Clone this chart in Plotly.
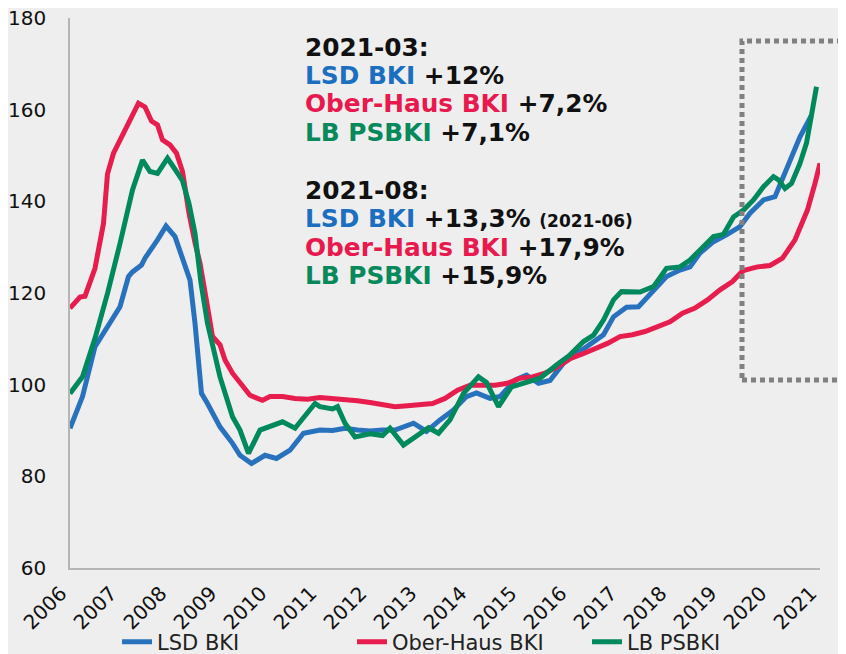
import plotly.graph_objects as go

# ---- data (x = position on the year axis) ----
years = list(range(2006, 2022))
year_labels = [str(y) for y in years]

lsd_t = [2006.0, 2006.25, 2006.5, 2006.75, 2007.0, 2007.17, 2007.25, 2007.43, 2007.5, 2007.75,
         2007.92, 2008.1, 2008.25, 2008.4, 2008.5, 2008.63, 2008.75, 2009.0, 2009.25, 2009.4,
         2009.63, 2009.9, 2010.13, 2010.4, 2010.67, 2011.0, 2011.25, 2011.5, 2011.75, 2012.0,
         2012.25, 2012.5, 2012.87, 2013.13, 2013.4, 2013.67, 2013.93, 2014.13, 2014.4, 2014.6,
         2014.9, 2015.13, 2015.37, 2015.6, 2015.87, 2016.13, 2016.4, 2016.67, 2016.87, 2017.13,
         2017.37, 2017.67, 2017.93, 2018.2, 2018.4, 2018.6, 2018.87, 2019.13, 2019.4, 2019.6,
         2019.87, 2020.1, 2020.33, 2020.6, 2020.83]
lsd_v = [90.5, 97.4, 108.3, 112.6, 117.0, 123.6, 124.6, 126.1, 127.6, 131.6,
         134.6, 132.3, 127.9, 122.8, 113.4, 98.1, 95.9, 90.8, 87.2, 84.6,
         82.8, 84.6, 83.9, 85.7, 89.4, 90.1, 90.0, 90.5, 90.1, 89.9,
         90.1, 90.1, 91.6, 89.8, 92.3, 94.5, 97.4, 98.2, 97.0, 97.4,
         101.0, 102.1, 100.3, 100.9, 104.7, 106.7, 109.0, 110.9, 114.8, 116.9,
         117.0, 120.7, 123.6, 125.0, 125.7, 128.7, 131.2, 132.7, 134.5, 137.4,
         140.3, 141.0, 146.8, 154.1, 158.8]

oh_t = [2006.0, 2006.2, 2006.3, 2006.5, 2006.67, 2006.75, 2006.87, 2007.0, 2007.25, 2007.37,
        2007.5, 2007.63, 2007.75, 2007.85, 2008.0, 2008.13, 2008.25, 2008.38, 2008.5, 2008.6,
        2008.75, 2008.85, 2009.0, 2009.1, 2009.25, 2009.4, 2009.5, 2009.6, 2009.75, 2009.85,
        2010.0, 2010.25, 2010.5, 2010.75, 2011.0, 2011.25, 2011.5, 2011.75, 2012.0, 2012.25,
        2012.5, 2012.75, 2013.0, 2013.25, 2013.5, 2013.75, 2014.0, 2014.25, 2014.5, 2014.75,
        2015.0, 2015.25, 2015.5, 2015.75, 2016.0, 2016.25, 2016.5, 2016.75, 2017.0, 2017.25,
        2017.5, 2017.75, 2018.0, 2018.25, 2018.5, 2018.75, 2019.0, 2019.25, 2019.43, 2019.5,
        2019.75, 2020.0, 2020.25, 2020.5, 2020.75, 2020.9, 2021.0]
oh_v = [116.7, 119.1, 119.3, 125.4, 135.2, 146.0, 150.5, 153.4, 158.8, 161.4,
        160.6, 157.5, 156.7, 153.4, 152.3, 150.5, 146.5, 137.4, 131.0, 126.5,
        117.0, 110.5, 108.7, 105.4, 102.5, 100.3, 99.2, 97.7, 97.0, 96.6,
        97.4, 97.4, 97.0, 96.8, 97.2, 97.0, 96.8, 96.5, 96.1, 95.6,
        95.2, 95.4, 95.6, 95.9, 97.0, 98.8, 99.9, 99.8, 99.9, 100.3,
        101.4, 101.7, 102.5, 103.9, 105.7, 106.7, 107.9, 109.0, 110.5, 110.9,
        111.6, 112.7, 113.7, 115.6, 116.7, 118.5, 120.7, 122.5, 124.6, 125.0,
        125.7, 126.0, 127.6, 131.6, 138.1, 143.9, 148.3]

lb_t = [2006.0, 2006.25, 2006.5, 2006.75, 2007.0, 2007.25, 2007.45, 2007.6, 2007.75, 2007.95,
        2008.1, 2008.25, 2008.38, 2008.5, 2008.62, 2008.75, 2009.0, 2009.25, 2009.4, 2009.57,
        2009.8, 2010.0, 2010.25, 2010.5, 2010.75, 2010.9, 2011.0, 2011.25, 2011.35, 2011.5,
        2011.7, 2012.0, 2012.25, 2012.4, 2012.67, 2013.0, 2013.17, 2013.37, 2013.6, 2013.87,
        2014.17, 2014.33, 2014.57, 2014.83, 2015.07, 2015.4, 2015.73, 2016.0, 2016.27, 2016.47,
        2016.67, 2016.87, 2017.03, 2017.4, 2017.67, 2017.93, 2018.2, 2018.4, 2018.6, 2018.87,
        2019.07, 2019.27, 2019.47, 2019.67, 2019.87, 2020.07, 2020.17, 2020.3, 2020.43, 2020.6,
        2020.73, 2020.83, 2020.93]
lb_v = [98.1, 101.7, 110.1, 119.9, 130.8, 142.5, 149.0, 146.5, 146.1, 149.4,
        147.0, 144.5, 139.5, 133.0, 122.2, 113.4, 101.7, 93.0, 90.1, 85.0,
        90.1, 91.0, 91.9, 90.5, 93.7, 95.9, 95.2, 94.7, 95.2, 91.6,
        88.6, 89.3, 88.9, 90.5, 86.8, 89.2, 90.6, 89.4, 92.3, 98.1,
        101.7, 100.5, 95.2, 99.5, 100.3, 101.4, 104.3, 106.5, 109.4, 110.8,
        114.1, 118.5, 120.3, 120.2, 121.4, 125.4, 125.7, 127.2, 129.4, 132.3,
        132.8, 136.6, 138.1, 140.3, 143.2, 145.4, 144.7, 142.8, 143.9, 148.3,
        152.7, 158.5, 165.0]

series_names = ["LSD BKI", "Ober-Haus BKI", "LB PSBKI"]
y_ticks = [60, 80, 100, 120, 140, 160, 180]

BLUE = "#2872bd"
RED = "#e61d4d"
GREEN = "#00895c"
TXT_BLUE = "#1b6fc0"
TXT_RED = "#e8194c"
TXT_GREEN = "#07895b"

FONT = "DejaVu Sans, Verdana, sans-serif"

fig = go.Figure()
for t, v, name, col in [(lsd_t, lsd_v, series_names[0], BLUE),
                        (oh_t, oh_v, series_names[1], RED),
                        (lb_t, lb_v, series_names[2], GREEN)]:
    fig.add_trace(go.Scatter(x=t, y=v, name=name, mode="lines",
                             line=dict(color=col, width=5)))

# The page body has an 8px default margin, so the figure is drawn 8px smaller
# and all target positions below are in window pixels.
OFF = 8
WIN_W, WIN_H = 846, 654
W, H = WIN_W - OFF, WIN_H - OFF
PLOT_L, PLOT_R, PLOT_T, PLOT_B = 70, 820, 18, 568   # window pixels
L, R, T, B = PLOT_L - OFF, WIN_W - PLOT_R, PLOT_T - OFF, WIN_H - PLOT_B
pw, ph = PLOT_R - PLOT_L, PLOT_B - PLOT_T


def px_x(px):
    return (px - PLOT_L) / pw


def px_y(py):
    return (PLOT_B - py) / ph


fig.update_layout(
    width=W, height=H,
    margin=dict(l=L, r=R, t=T, b=B, autoexpand=False),
    paper_bgcolor="#eeeeee",
    plot_bgcolor="#eeeeee",
    font=dict(family=FONT, color="#111111"),
    showlegend=True,
    legend=dict(orientation="h", x=px_x(117), xanchor="left",
                y=px_y(642), yanchor="middle",
                font=dict(size=21, color="#222222", family=FONT),
                entrywidth=190, entrywidthmode="pixels",
                bgcolor="rgba(0,0,0,0)"),
    xaxis=dict(range=[2006, 2021], tickmode="array", tickvals=years, ticktext=year_labels,
               tickangle=-45, tickfont=dict(size=20, color="#111111"),
               showgrid=False, zeroline=False, showline=True, linecolor="#b5b5b5",
               linewidth=1.5, ticks="", ticklabelstandoff=4, ticklabelshift=-9,
               automargin=False, ticklabeloverflow="allow"),
    yaxis=dict(range=[60, 180], tickmode="array", tickvals=y_ticks,
               tickfont=dict(size=20, color="#111111"),
               showgrid=False, zeroline=False, showline=True, linecolor="#b5b5b5",
               linewidth=1.5, ticks="", ticklabelstandoff=18, automargin=False,
               ticklabeloverflow="allow"),
)

# dotted highlight frame
fig.add_shape(type="rect", xref="paper", yref="paper",
              x0=px_x(742), x1=px_x(843), y0=px_y(380), y1=px_y(41),
              line=dict(color="#808080", width=5, dash="5px,4px"),
              fillcolor="rgba(0,0,0,0)", layer="above")

# text block
lines = [
    (47, "2021-03:"),
    (75, f"<span style='color:{TXT_BLUE}'>LSD BKI</span> +12%"),
    (103, f"<span style='color:{TXT_RED}'>Ober-Haus BKI</span> +7,2%"),
    (132, f"<span style='color:{TXT_GREEN}'>LB PSBKI</span> +7,1%"),
    (190, "2021-08:"),
    (218, f"<span style='color:{TXT_BLUE}'>LSD BKI</span> +13,3% <span style='font-size:17px'>(2021-06)</span>"),
    (247, f"<span style='color:{TXT_RED}'>Ober-Haus BKI</span> +17,9%"),
    (275, f"<span style='color:{TXT_GREEN}'>LB PSBKI</span> +15,9%"),
]
for py, txt in lines:
    fig.add_annotation(xref="paper", yref="paper", x=px_x(303), y=px_y(py),
                       xanchor="left", yanchor="middle", showarrow=False,
                       text=f"<b>{txt}</b>",
                       font=dict(size=24.8, color="#111111", family=FONT))

fig.write_html("out.html")
